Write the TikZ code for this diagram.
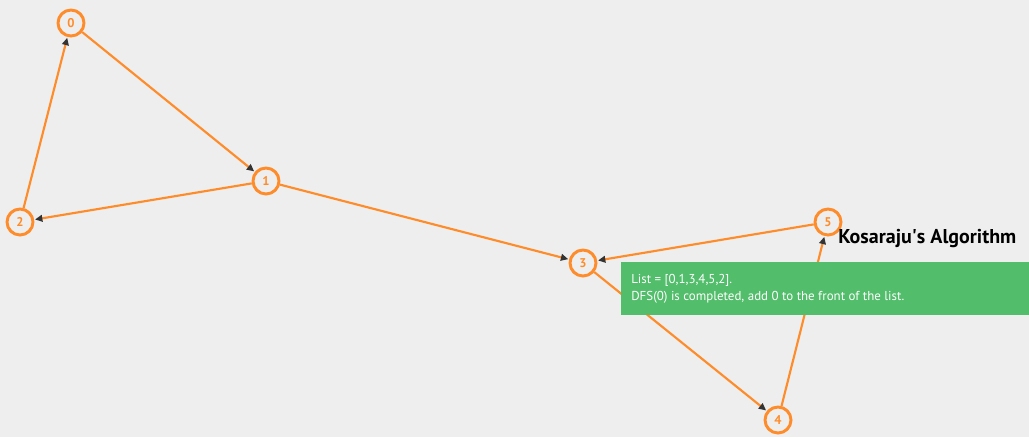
\documentclass[tikz,border=0pt]{standalone}
\usepackage{fontspec}
\setmainfont{PT Sans}
\usetikzlibrary{arrows.meta}
\definecolor{bg}{HTML}{EEEEEE}
\definecolor{vorange}{HTML}{FF8C2A}
\definecolor{vgreen}{HTML}{52BD6A}
\definecolor{tipc}{HTML}{333333}
\begin{document}
\begin{tikzpicture}[x=0.75pt,y=-0.75pt,
  vtx/.style={circle,draw=vorange,line width=2.2pt,fill=bg,minimum size=19.5pt,inner sep=0pt,
    text=vorange,font=\bfseries\fontsize{9.5}{10}\selectfont},
  edge/.style={draw=vorange,line width=1.6pt,-{Triangle[length=5.5pt,width=5pt,color=tipc]},shorten >=0.6pt}]
\fill[bg] (0,0) rectangle (1029,437);
\useasboundingbox (0,0) rectangle (1029,437);
\node[vtx] (n0) at (71,23) {0};
\node[vtx] (n1) at (266,181) {1};
\node[vtx] (n2) at (20,222) {2};
\node[vtx] (n3) at (583,263) {3};
\node[vtx] (n4) at (778,420) {4};
\node[vtx] (n5) at (828,222) {5};
\draw[edge] (n0) -- (n1);
\draw[edge] (n1) -- (n2);
\draw[edge] (n2) -- (n0);
\draw[edge] (n1) -- (n3);
\draw[edge] (n3) -- (n4);
\draw[edge] (n4) -- (n5);
\draw[edge] (n5) -- (n3);
\node[fill=vgreen,minimum width=306.75pt,minimum height=39.75pt,anchor=north west,inner sep=0pt] (box) at (621,262) {};
\node[anchor=west,text=white,font=\fontsize{9.7}{12.75}\selectfont,align=left,inner sep=0pt] (msg) at (631,288.5) {List = [0,1,3,4,5,2].\\DFS(0) is completed, add 0 to the front of the list.};
\node[anchor=west,font=\bfseries\fontsize{15}{17}\selectfont,inner sep=0pt] (title) at (838,239) {Kosaraju\textquotesingle s Algorithm};
\end{tikzpicture}
\end{document}
